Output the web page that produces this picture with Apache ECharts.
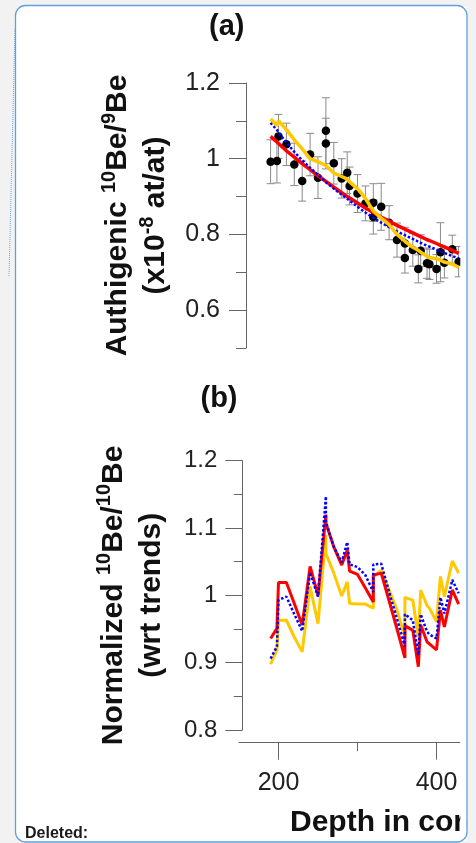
<!DOCTYPE html>
<html><head><meta charset="utf-8">
<script src="https://cdn.jsdelivr.net/npm/echarts@6/dist/echarts.min.js"></script>
<style>html,body{margin:0;padding:0;background:#f2f2f2;}#c{width:476px;height:843px;}</style>
</head><body><div id="c"></div>
<script>
// depth in core (cm) of each sample
const depths = [190,198,200,210,220,230,240,250,260,260,270,280,287,290,300,310,320,320,330,340,350,360,360,370,377,380,388,391,400,405,410,420,428];
// (a) authigenic 10Be/9Be (x1e-8 at/at) and 1-sigma errors
const ratioA = [0.992,0.994,1.059,1.038,0.985,0.941,1.011,0.950,1.074,1.040,0.988,0.948,0.963,0.928,0.908,0.882,0.884,0.846,0.873,0.831,0.785,0.776,0.738,0.759,0.709,0.757,0.724,0.721,0.709,0.753,0.725,0.761,0.728];
const errA   = [0.058,0.058,0.058,0.056,0.056,0.053,0.056,0.055,0.087,0.067,0.055,0.052,0.055,0.050,0.050,0.046,0.050,0.045,0.062,0.045,0.045,0.043,0.040,0.043,0.037,0.042,0.040,0.040,0.038,0.078,0.040,0.037,0.040];
// (a) trends
const trendRed    = [1.059,1.044,1.040,1.021,1.004,0.987,0.971,0.955,0.940,0.940,0.925,0.910,0.900,0.896,0.883,0.870,0.858,0.858,0.846,0.835,0.824,0.814,0.814,0.804,0.797,0.794,0.786,0.784,0.776,0.771,0.767,0.758,0.750];
const trendBlue   = [1.095,1.076,1.069,1.043,1.018,0.996,0.976,0.957,0.938,0.938,0.921,0.905,0.894,0.889,0.873,0.858,0.844,0.844,0.831,0.819,0.808,0.798,0.798,0.788,0.781,0.778,0.770,0.768,0.760,0.755,0.751,0.743,0.737];
const trendYellow = [1.105,1.088,1.100,1.077,1.050,1.026,1.000,0.992,0.982,0.980,0.962,0.953,0.946,0.939,0.921,0.895,0.862,0.861,0.843,0.826,0.800,0.782,0.779,0.766,0.758,0.753,0.742,0.739,0.736,0.732,0.727,0.722,0.713];
// (b) normalized 10Be/10Be (wrt trends)
const normRed    = [0.936,0.951,1.019,1.019,0.988,0.956,1.043,1.000,1.120,1.107,1.072,1.045,1.067,1.036,1.031,1.011,0.990,1.030,1.033,0.992,0.950,0.907,0.955,0.948,0.894,0.956,0.931,0.928,0.919,0.978,0.953,1.008,0.987];
const normBlue   = [0.906,0.924,0.993,0.998,0.972,0.947,1.034,0.998,1.147,1.109,1.072,1.049,1.079,1.046,1.042,1.030,1.005,1.046,1.047,1.005,0.965,0.924,0.972,0.963,0.911,0.972,0.946,0.942,0.936,0.997,0.973,1.023,1.003];
const normYellow = [0.898,0.919,0.963,0.963,0.938,0.916,1.013,0.958,1.090,1.062,1.033,0.999,1.020,0.988,0.987,0.987,0.981,1.028,1.037,1.008,0.978,0.938,0.997,0.993,0.938,1.008,0.985,0.981,0.961,1.028,0.998,1.051,1.033];
// tick labels
const yLabelsA = [0.6,0.8,1,1.2];
const yMinorA  = [0.5,0.7,0.9,1.1];
const xLabelsB = [200,400];
const xMinorB  = [300];

const FF = 'Liberation Sans, Arial, sans-serif';
const AX = '#666';
const BG = '#f2f2f2';
const zip = (ys) => depths.map((d,i)=>[d, ys[i]]);

const chart = echarts.init(document.getElementById('c'), null, {renderer:'canvas'});
const nameRich = {
  t:{fontFamily:FF,fontSize:30,fontWeight:'bold',color:'#111',lineHeight:38},
  s:{fontFamily:FF,fontSize:20,fontWeight:'bold',color:'#111',lineHeight:22,verticalAlign:'top'}
};
const option = {
  animation:false,
  backgroundColor:BG,
  grid:[
    {left:239, top:83, width:221.2, height:265},
    {left:239, top:460.7, width:221.2, height:269.3}
  ],
  xAxis:[
    {gridIndex:0, type:'value', min:150, max:430, show:false},
    {gridIndex:1, type:'value', min:150, max:430, position:'bottom', offset:12.7,
     axisLine:{show:true, lineStyle:{color:AX,width:1}},
     axisTick:{show:true, length:17, customValues:xLabelsB, lineStyle:{color:AX}},
     axisLabel:{show:true, customValues:xLabelsB, margin:28, fontSize:25, fontFamily:FF, color:'#222'},
     splitLine:{show:false}},
    {gridIndex:1, type:'value', min:150, max:430, position:'bottom', offset:12.7,
     axisLine:{show:false},
     axisTick:{show:true, length:8.5, customValues:xMinorB, lineStyle:{color:AX}},
     axisLabel:{show:false}, splitLine:{show:false}}
  ],
  yAxis:[
    {gridIndex:0, type:'value', min:0.5, max:1.2, position:'left', offset:-7,
     axisLine:{show:true, lineStyle:{color:AX,width:1}},
     axisTick:{show:true, length:17, customValues:yLabelsA, lineStyle:{color:AX}},
     axisLabel:{show:true, customValues:yLabelsA, margin:26, fontSize:25, fontFamily:FF, color:'#222'},
     splitLine:{show:false},
     name:'{t|Authigenic }{s|10}{t|Be/}{s|9}{t|Be}\n{t|(x10}{s|-8}{t| at/at)}',
     nameLocation:'middle', nameRotate:90, nameGap:71,
     nameTextStyle:{rich:nameRich}},
    {gridIndex:0, type:'value', min:0.5, max:1.2, position:'left', offset:-7,
     axisLine:{show:false},
     axisTick:{show:true, length:10, customValues:yMinorA, lineStyle:{color:AX}},
     axisLabel:{show:false}, splitLine:{show:false}},
    {gridIndex:1, type:'value', min:0.8, max:1.2, interval:0.1, position:'left', offset:-3.3,
     axisLine:{show:true, lineStyle:{color:AX,width:1}},
     axisTick:{show:true, length:17, lineStyle:{color:AX}},
     minorTick:{show:true, splitNumber:2, length:8.5, lineStyle:{color:AX}},
     axisLabel:{show:true, margin:25, fontSize:24, fontFamily:FF, color:'#222'},
     splitLine:{show:false}, minorSplitLine:{show:false},
     name:'{t|Normalized }{s|10}{t|Be/}{s|10}{t|Be}\n{t|(wrt trends)}',
     nameLocation:'middle', nameRotate:90, nameGap:72,
     nameTextStyle:{rich:nameRich}}
  ],
  series:[
    {type:'custom', xAxisIndex:0, yAxisIndex:0, z:1,
     data: depths.map((d,i)=>[d, ratioA[i], errA[i]]),
     encode:{x:0,y:1},
     renderItem:function(params, api){
       const x=api.value(0), y=api.value(1), e=api.value(2);
       const hi=api.coord([x,y+e]), lo=api.coord([x,y-e]);
       const w=4, st={stroke:'#8a8a8a', lineWidth:1};
       return {type:'group', children:[
         {type:'line', shape:{x1:hi[0],y1:hi[1],x2:lo[0],y2:lo[1]}, style:st},
         {type:'line', shape:{x1:hi[0]-w,y1:hi[1],x2:hi[0]+w,y2:hi[1]}, style:st},
         {type:'line', shape:{x1:lo[0]-w,y1:lo[1],x2:lo[0]+w,y2:lo[1]}, style:st}
       ]};
     }},
    {type:'scatter', xAxisIndex:0, yAxisIndex:0, z:2, symbol:'circle', symbolSize:8.5,
     itemStyle:{color:'#000', opacity:1}, data: zip(ratioA)},
    {type:'line', xAxisIndex:0, yAxisIndex:0, z:3, showSymbol:false, symbol:'none',
     lineStyle:{color:'#ff0000', width:3.5}, data: zip(trendRed)},
    {type:'line', xAxisIndex:0, yAxisIndex:0, z:4, showSymbol:false, symbol:'none',
     lineStyle:{color:'#0000ff', width:2.5, type:[2.5,2]}, data: zip(trendBlue)},
    {type:'line', xAxisIndex:0, yAxisIndex:0, z:5, showSymbol:false, symbol:'none',
     lineStyle:{color:'#ffc800', width:3.5}, data: zip(trendYellow)},
    {type:'line', xAxisIndex:1, yAxisIndex:2, z:3, showSymbol:false, symbol:'none',
     lineStyle:{color:'#ffc800', width:3}, data: zip(normYellow)},
    {type:'line', xAxisIndex:1, yAxisIndex:2, z:4, showSymbol:false, symbol:'none',
     lineStyle:{color:'#ff0000', width:3}, data: zip(normRed)},
    {type:'line', xAxisIndex:1, yAxisIndex:2, z:5, showSymbol:false, symbol:'none',
     lineStyle:{color:'#0000ff', width:2.5, type:[2.5,2]}, data: zip(normBlue)}
  ],
  graphic:[
    {type:'rect', z:-10, shape:{x:15.5,y:5.5,width:451.5,height:836.5,r:10}, style:{fill:'#fff'}},
    {type:'line', z:-9, shape:{x1:15,y1:29,x2:9,y2:277}, style:{stroke:'#6aa6de', lineWidth:1, lineDash:[1,1]}},
    {type:'text', z:20, style:{text:'(a)', x:226.7, y:27, align:'center', verticalAlign:'middle', font:'bold 29px '+FF, fill:'#111'}},
    {type:'text', z:20, style:{text:'(b)', x:219, y:399, align:'center', verticalAlign:'middle', font:'bold 29px '+FF, fill:'#111'}},
    {type:'text', z:20, style:{text:'Depth in core (cm)', x:290, y:823, align:'left', verticalAlign:'middle', font:'bold 30px '+FF, fill:'#111'}},
    {type:'rect', z:50, shape:{x:460.3,y:7,width:6.5,height:834}, style:{fill:'#fff'}},
    {type:'rect', z:50, shape:{x:467,y:0,width:9,height:843}, style:{fill:BG}},
    {type:'rect', z:51, shape:{x:15.5,y:5.5,width:451.5,height:836.5,r:10}, style:{fill:'none', stroke:'#62a0dc', lineWidth:1.3}},
    {type:'text', z:52, style:{text:'Deleted:', x:25, y:834, align:'left', verticalAlign:'middle', font:'bold 16px '+FF, fill:'#1a1a1a'}}
  ]
};
chart.setOption(option);
</script>
</body></html>
